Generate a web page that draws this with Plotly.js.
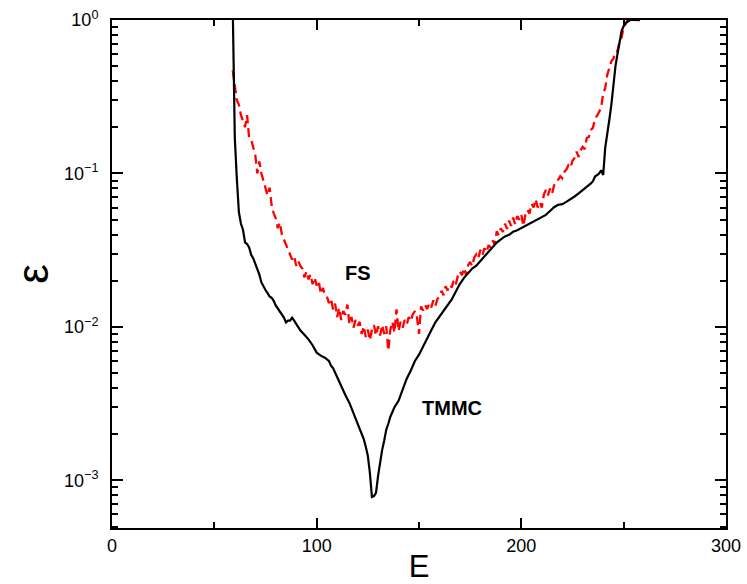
<!DOCTYPE html>
<html>
<head>
<meta charset="utf-8">
<script src="https://cdn.plot.ly/plotly-3.0.1.min.js"></script>
<style>html,body{margin:0;padding:0;background:#fff;}#chart{width:747px;height:584px;}</style>
</head>
<body>
<div id="chart"></div>
<script>
// TMMC (black solid)
const tmmcE = [59,60,61,62,63,64,65,66,67,68,69,70,71,72,73,74,75,76,77,78,79,80,81,82,83,84,85,86,87,88,89,90,92,94,96,98,100,102,104,106,107,108,110,112,114,116,118,120,121,122,123,124,125,126,127,128,129,130,131,132,133,134,135,136,138,140,142,144,146,148,150,152,154,156,158,160,162,164,166,168,170,172,174,176,178,180,182,184,186,188,190,192,194,196,198,200,202,204,206,208,210,212,214,216,218,220,222,224,226,228,230,232,234,235,236,237,238,239,240,241,242,243,244,245,246,247,248,249,250,251,252,253,255,258];
const tmmcEps = [1.2,0.17,0.092,0.056,0.047,0.043,0.0355,0.0347,0.033,0.0295,0.028,0.0257,0.024,0.0219,0.0195,0.0182,0.0174,0.0166,0.0158,0.0155,0.0148,0.0138,0.0132,0.0126,0.0120,0.0115,0.0107,0.0110,0.0110,0.0115,0.0110,0.0105,0.0095,0.0089,0.0083,0.0076,0.0068,0.0065,0.0063,0.0060,0.0056,0.0054,0.0047,0.0042,0.0036,0.0032,0.00275,0.00234,0.0022,0.0020,0.00186,0.00166,0.00145,0.00112,0.00078,0.00079,0.00083,0.00107,0.00132,0.00158,0.00182,0.00214,0.00234,0.0026,0.0030,0.0033,0.0039,0.0046,0.0052,0.0060,0.0066,0.0074,0.0083,0.0095,0.0107,0.0117,0.0126,0.0138,0.0151,0.0170,0.0191,0.0209,0.0224,0.0240,0.0251,0.0269,0.0288,0.0309,0.0331,0.0355,0.0372,0.0389,0.0398,0.0417,0.0427,0.0442,0.0452,0.0468,0.0490,0.0507,0.0519,0.0537,0.0569,0.0603,0.0624,0.0631,0.0653,0.0676,0.0708,0.0741,0.0776,0.0813,0.0861,0.0891,0.0955,0.0977,0.100,0.105,0.0977,0.148,0.178,0.224,0.282,0.398,0.501,0.603,0.741,0.851,0.912,0.955,0.977,1.0,1.0,1.0];

// FS (red dashed)
const fsE = [59,60,61,62,63,64,65,66,67,68,69,70,71,72,73,74,75,76,77,78,79,80,81,82,83,84,85,86,87,88,89,90,91,92,93,94,95,96,97,98,99,100,101,102,103,104,105,106,107,108,109,110,111,112,113,114,115,116,117,118,119,120,121,122,123,124,125,126,127,128,129,130,131,132,133,134,135,136,137,138,139,140,141,142,143,144,145,146,147,148,149,150,151,152,153,154,155,156,157,158,159,160,161,162,163,164,165,166,167,168,169,170,171,172,173,174,175,176,177,178,179,180,181,182,183,184,185,186,187,188,189,190,191,192,193,194,195,196,197,198,199,200,201,202,203,204,205,206,207,208,209,210,211,212,213,214,215,216,217,218,219,220,221,222,223,224,225,226,227,228,229,230,231,232,233,234,235,236,237,238,239,240,241,242,243,244,245,246,247,248,249,250,251,252,253,254,255,256,257,258];
const fsEps = [0.47,0.38,0.30,0.28,0.24,0.22,0.20,0.24,0.170,0.166,0.145,0.132,0.100,0.120,0.100,0.089,0.079,0.072,0.081,0.062,0.055,0.051,0.044,0.048,0.040,0.037,0.035,0.0316,0.030,0.0275,0.029,0.025,0.027,0.025,0.024,0.021,0.023,0.0204,0.022,0.019,0.021,0.0186,0.020,0.0164,0.018,0.0162,0.0158,0.0143,0.0153,0.0130,0.0142,0.0116,0.0133,0.0111,0.0127,0.0120,0.0140,0.0104,0.0116,0.0099,0.0111,0.0102,0.0108,0.0090,0.0101,0.0086,0.0096,0.0082,0.0096,0.0103,0.0088,0.0101,0.0088,0.0103,0.0090,0.0101,0.0070,0.0096,0.0108,0.0092,0.0130,0.0094,0.0108,0.0099,0.0111,0.0104,0.0116,0.0109,0.0121,0.0127,0.0116,0.0090,0.0136,0.0128,0.0139,0.0131,0.0142,0.0134,0.0149,0.0137,0.0152,0.0158,0.0172,0.0161,0.0184,0.0173,0.0188,0.0181,0.0202,0.0190,0.0216,0.0230,0.0217,0.0242,0.0217,0.0253,0.0265,0.0249,0.0284,0.0297,0.0280,0.0318,0.0293,0.0326,0.0307,0.0341,0.0329,0.0365,0.0345,0.0420,0.0396,0.0440,0.0415,0.0471,0.0435,0.0493,0.0455,0.0516,0.0466,0.0528,0.0499,0.0540,0.0455,0.0540,0.0578,0.0548,0.0634,0.0600,0.0680,0.0600,0.0650,0.0600,0.0728,0.0780,0.0720,0.0798,0.0738,0.0836,0.0895,0.0910,0.0960,0.0930,0.102,0.106,0.113,0.109,0.121,0.126,0.139,0.128,0.142,0.149,0.144,0.171,0.173,0.192,0.199,0.226,0.238,0.253,0.267,0.333,0.361,0.440,0.498,0.540,0.560,0.620,0.628,0.728,0.772,0.895,0.950,1.0,1.0,1.0,1.0,1.0,1.0,1.0];

const xTickVals = [0,100,200,300];
const xTickText = ['0','100','200','300'];
const yTickVals = [0.001,0.01,0.1,1];
const yTickText = ['10<sup>\u22123</sup>','10<sup>\u22122</sup>','10<sup>\u22121</sup>','10<sup>0</sup>'];
const labelNames = ['FS','TMMC'];
const labelE = [120,166];
const labelEps = [0.0224,0.00295];

const xMinor = [50,150,250];
const yMinor = [];
for (let d = -4; d <= 0; d++) {
  for (let k = 2; k <= 9; k++) yMinor.push(k * Math.pow(10, d));
}

const traces = [
  {x: fsE, y: fsEps, type: 'scatter', mode: 'lines', name: 'FS',
   line: {color: '#ff0000', width: 2.3, dash: '9px,5px'}},
  {x: tmmcE, y: tmmcEps, type: 'scatter', mode: 'lines', name: 'TMMC',
   line: {color: '#000000', width: 2.2}},
  {x: [0], y: [1], xaxis: 'x2', yaxis: 'y2', type: 'scatter', mode: 'markers',
   marker: {opacity: 0}, hoverinfo: 'skip'}
];

const font = 'Liberation Sans, Arial, sans-serif';
const minorTick = {ticks: 'inside', ticklen: 6, tickwidth: 2, tickcolor: '#000'};
const layout = {
  width: 747, height: 584,
  margin: {l: 112, r: 21, t: 20, b: 56, pad: 0, autoexpand: false},
  paper_bgcolor: '#fff', plot_bgcolor: '#fff',
  showlegend: false,
  font: {family: font, color: '#000', size: 18},
  xaxis: {
    range: [0, 300], tickmode: 'array', tickvals: xTickVals, ticktext: xTickText,
    ticks: 'inside', ticklen: 10, tickwidth: 2, tickcolor: '#000',
    showline: true, linecolor: '#000', linewidth: 2, mirror: 'ticks',
    showgrid: false, zeroline: false,
    tickfont: {family: font, size: 18, color: '#000'},
    minor: Object.assign({tickmode: 'array', tickvals: xMinor, showgrid: false}, minorTick),
    title: {text: 'E', font: {family: font, size: 31, color: '#000'}}
  },
  xaxis2: Object.assign({
    overlaying: 'x', side: 'top', anchor: 'y', range: [0, 300], tickmode: 'array', tickvals: xMinor,
    showticklabels: false, showline: false, showgrid: false, zeroline: false
  }, minorTick),
  yaxis: {
    type: 'log', range: [-3.31, 0], tickmode: 'array', tickvals: yTickVals, ticktext: yTickText,
    ticks: 'inside', ticklen: 11, tickwidth: 2, tickcolor: '#000',
    showline: true, linecolor: '#000', linewidth: 2, mirror: 'ticks',
    showgrid: false, zeroline: false, ticklabelstandoff: 8, automargin: true,
    tickfont: {family: font, size: 18, color: '#000'},
    minor: Object.assign({tickmode: 'array', tickvals: yMinor, showgrid: false}, minorTick),
    title: {text: '\u03b5', font: {family: font, size: 44, color: '#000'}, standoff: 2}
  },
  yaxis2: Object.assign({
    overlaying: 'y', side: 'right', anchor: 'x', type: 'log', range: [-3.31, 0], tickmode: 'array', tickvals: yMinor,
    showticklabels: false, showline: false, showgrid: false, zeroline: false
  }, minorTick),
  annotations: labelNames.map((t, i) => ({
    x: labelE[i], y: Math.log10(labelEps[i]), xref: 'x', yref: 'y',
    text: '<b>' + t + '</b>', showarrow: false,
    font: {family: font, size: 20, color: '#000'}
  }))
};

Plotly.newPlot('chart', traces, layout, {staticPlot: true, displayModeBar: false});
</script>
</body>
</html>
